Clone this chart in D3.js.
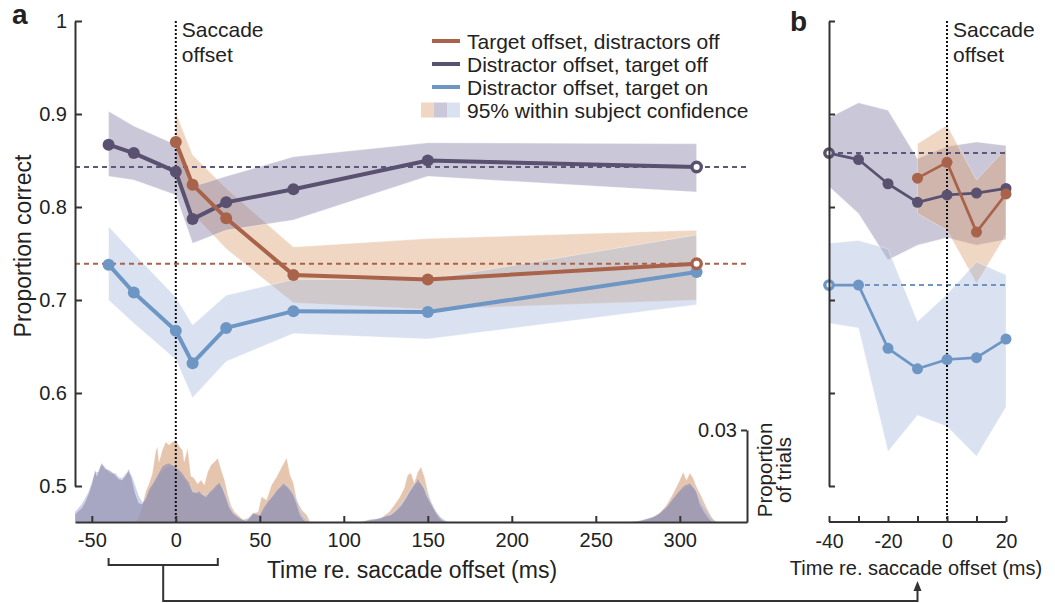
<!DOCTYPE html>
<html>
<head>
<meta charset="utf-8">
<script src="https://cdn.jsdelivr.net/npm/d3@7"></script>
<style>
  html, body { margin: 0; padding: 0; background: #fff; }
  svg { display: block; }
  text { font-family: 'Liberation Sans', Arial, Helvetica, sans-serif; fill: #222; }
</style>
</head>
<body>
<svg id="chart" width="1055" height="603"></svg>
<script>
// ---------------- DATA ----------------
// Panel a: proportion correct vs time re. saccade offset (ms)
const timesA = [-40, -25, 0, 10, 30, 70, 150, 310];
const distOffTargetOffA   = [0.867, 0.858, 0.838, 0.787, 0.805, 0.819, 0.850, 0.843];
const distOffTargetOffLoA = [0.833, 0.829, 0.813, 0.761, 0.775, 0.786, 0.833, 0.816];
const distOffTargetOffHiA = [0.903, 0.887, 0.867, 0.822, 0.833, 0.854, 0.869, 0.868];
const distOffTargetOnA    = [0.738, 0.708, 0.667, 0.632, 0.670, 0.688, 0.687, 0.730];
const distOffTargetOnLoA  = [0.700, 0.675, 0.636, 0.595, 0.634, 0.664, 0.658, 0.695];
const distOffTargetOnHiA  = [0.779, 0.750, 0.703, 0.673, 0.705, 0.722, 0.722, 0.770];
const timesTargetA = [0, 10, 30, 70, 150, 310];
const targetOffA   = [0.870, 0.824, 0.788, 0.727, 0.722, 0.739];
const targetOffLoA = [0.835, 0.793, 0.755, 0.697, 0.690, 0.700];
const targetOffHiA = [0.902, 0.856, 0.820, 0.757, 0.766, 0.775];
// reference (dashed) levels in panel a
const refTargetA = 0.739;
const refDistOffA = 0.843;

// Panel b
const timesB = [-40, -30, -20, -10, 0, 10, 20];
const distOffTargetOffB   = [0.858, 0.851, 0.825, 0.805, 0.813, 0.815, 0.820];
const distOffTargetOffLoB = [0.822, 0.793, 0.743, 0.759, 0.767, 0.759, 0.765];
const distOffTargetOffHiB = [0.896, 0.912, 0.904, 0.852, 0.865, 0.870, 0.866];
const distOffTargetOnB    = [0.716, 0.716, 0.648, 0.626, 0.636, 0.638, 0.658];
const distOffTargetOnLoB  = [0.675, 0.670, 0.537, 0.576, 0.564, 0.532, 0.585];
const distOffTargetOnHiB  = [0.761, 0.764, 0.755, 0.677, 0.706, 0.741, 0.727];
const timesTargetB = [-10, 0, 10, 20];
const targetOffB   = [0.831, 0.848, 0.773, 0.814];
const targetOffLoB = [0.793, 0.775, 0.718, 0.770];
const targetOffHiB = [0.868, 0.888, 0.829, 0.863];
const refDistOffB = 0.858;
const refDistOnB = 0.716;

// Histograms: proportion of trials vs time (ms)
const histTarget = [[-24,0],[-22,.0016],[-20,.0049],[-18,.0098],[-16,.0124],[-14,.0157],[-12,.0228],[-11,.0248],[-10,.0196],[-8,.0235],[-6,.0261],[-4,.0251],[-2,.0261],[0,.0267],[2,.0248],[4,.0235],[5,.0196],[7,.0241],[9,.0150],[11,.0143],[13,.0124],[15,.0137],[17,.0121],[19,.0163],[21,.0186],[23,.0196],[25,.0209],[27,.0170],[29,.0137],[31,.0088],[33,.0052],[35,.0033],[37,.0023],[40,.0007],[43,.0013],[46,.0029],[49,.0033],[51,.0082],[54,.0072],[57,.0121],[60,.0147],[63,.0179],[66,.0209],[68,.0153],[70,.0127],[72,.0072],[75,.0039],[78,.0023],[80,0],
  [115,0],[119,.0007],[123,.0016],[127,.0033],[130,.0055],[133,.0078],[136,.0111],[138,.0153],[140,.0160],[142,.0127],[144,.0163],[146,.0179],[148,.0147],[150,.0098],[152,.0065],[155,.0033],[158,.0013],[161,0],
  [272,0],[278,.0003],[282,.0010],[286,.0020],[288,.0029],[292,.0055],[295,.0082],[298,.0114],[300,.0137],[302,.0163],[304,.0137],[306,.0160],[308,.0143],[310,.0114],[313,.0082],[316,.0046],[319,.0016],[321,0]];
const histDistOff = [[-60,.0026],[-58,.0036],[-56,.0046],[-54,.0065],[-52,.0091],[-50,.0124],[-48,.0170],[-47,.0150],[-45,.0183],[-44,.0192],[-42,.0173],[-40,.0170],[-38,.0163],[-36,.0153],[-34,.0140],[-32,.0137],[-30,.0150],[-28,.0173],[-26,.0137],[-24,.0091],[-22,.0062],[-20,.0059],[-18,.0078],[-16,.0108],[-14,.0124],[-12,.0143],[-10,.0163],[-8,.0183],[-6,.0189],[-4,.0192],[-2,.0186],[0,.0179],[2,.0170],[4,.0160],[6,.0143],[8,.0130],[10,.0098],[12,.0095],[14,.0101],[16,.0088],[18,.0082],[20,.0098],[22,.0108],[24,.0121],[26,.0130],[28,.0108],[30,.0078],[32,.0046],[34,.0029],[36,.0020],[38,.0013],[40,.0007],[42,.0003],[44,.0013],[46,.0029],[48,.0026],[50,.0023],[52,.0046],[54,.0062],[56,.0075],[58,.0088],[60,.0104],[62,.0114],[64,.0127],[66,.0117],[68,.0104],[70,.0088],[72,.0059],[74,.0023],[76,.0007],[78,0],
  [110,0],[115,.0007],[119,.0010],[122,.0013],[125,.0020],[128,.0023],[131,.0036],[134,.0052],[137,.0078],[139,.0098],[141,.0114],[143,.0130],[144,.0143],[146,.0124],[148,.0108],[149,.0088],[151,.0068],[153,.0049],[155,.0029],[157,.0013],[159,.0003],[161,0],
  [270,0],[276,.0003],[280,.0010],[284,.0016],[288,.0029],[292,.0049],[296,.0078],[299,.0098],[301,.0111],[303,.0121],[306,.0127],[308,.0114],[310,.0098],[312,.0059],[315,.0029],[318,.0007],[320,0]];
const histDistOn = [[-60,.0033],[-58,.0046],[-56,.0059],[-54,.0078],[-52,.0098],[-50,.0130],[-48,.0163],[-46,.0163],[-44,.0186],[-42,.0179],[-40,.0163],[-38,.0157],[-36,.0160],[-34,.0147],[-32,.0143],[-30,.0157],[-28,.0163],[-26,.0150],[-24,.0117],[-22,.0085],[-20,.0065],[-18,.0072],[-16,.0098],[-14,.0117],[-12,.0137],[-10,.0157],[-8,.0170],[-6,.0179],[-4,.0183],[-2,.0189],[0,.0176],[2,.0163],[4,.0150],[6,.0137],[8,.0117],[10,.0104],[12,.0098],[14,.0091],[16,.0091],[18,.0088],[20,.0095],[22,.0104],[24,.0114],[26,.0124],[28,.0111],[30,.0085],[32,.0052],[34,.0033],[36,.0020],[38,.0010],[40,.0007],[42,.0007],[44,.0016],[46,.0026],[48,.0023],[50,.0026],[52,.0039],[54,.0055],[56,.0072],[58,.0085],[60,.0098],[62,.0111],[64,.0117],[66,.0121],[68,.0111],[70,.0095],[72,.0072],[74,.0039],[76,.0016],[78,.0007],[80,0],
  [112,0],[116,.0007],[120,.0010],[124,.0016],[128,.0026],[131,.0039],[134,.0059],[137,.0082],[140,.0108],[142,.0124],[144,.0130],[146,.0130],[148,.0111],[150,.0088],[152,.0065],[154,.0042],[156,.0026],[158,.0013],[161,.0003],[163,0],
  [272,0],[278,.0007],[282,.0013],[286,.0020],[290,.0036],[294,.0059],[297,.0082],[300,.0101],[303,.0114],[306,.0121],[309,.0111],[311,.0088],[313,.0062],[316,.0036],[319,.0013],[322,0]];

// Ticks & labels
const yTicks = [0.5, 0.6, 0.7, 0.8, 0.9, 1];
const xTicksA = [-50, 0, 50, 100, 150, 200, 250, 300];
const xTicksB = [-40, -30, -20, -10, 0, 10, 20];
const histTicks = [0.03];
const bracketRange = [-40, 25];   // ms in panel a expanded into panel b
const bracketTarget = -10;        // ms in panel b where the arrow points
const legendLabels = ["Target offset, distractors off", "Distractor offset, target off", "Distractor offset, target on", "95% within subject confidence"];

// ---------------- STYLE ----------------
const C = {
  orange: "#a9634b", purple: "#59516f", blue: "#6d96c4",
  orangeBand: "#d69c6c", purpleBand: "#8a82a8", blueBand: "#a3b3da",
  orangeHist: "#d7a27c", purpleHist: "#8a84a2", blueHist: "#a6b5dc",
  axis: "#333"
};

const svg = d3.select("#chart");
svg.append("rect").attr("width", 1055).attr("height", 603).attr("fill", "#fff");

const xA = d3.scaleLinear().domain([-60, 340]).range([75, 747]);
const yA = d3.scaleLinear().domain([0.5, 1]).range([486, 21]);
const yH = d3.scaleLinear().domain([0, 0.03]).range([522, 430]);
const xB = d3.scaleLinear().domain([-40, 20]).range([829, 1006]);

const zip = (ts, vs, lo, hi) => ts.map((t, i) => ({t, v: vs ? vs[i] : null, lo: lo ? lo[i] : null, hi: hi ? hi[i] : null}));

function band(g, x, data, color, op) {
  g.append("path").datum(data)
    .attr("d", d3.area().x(d => x(d.t)).y0(d => yA(d.lo)).y1(d => yA(d.hi)))
    .attr("fill", color).attr("fill-opacity", op)
    .attr("stroke", "#fff").attr("stroke-opacity", 0.35).attr("stroke-width", 1);
}
function series(g, x, data, color, lw, r, openIdx) {
  g.append("path").datum(data)
    .attr("d", d3.line().x(d => x(d.t)).y(d => yA(d.v)))
    .attr("fill", "none").attr("stroke", color).attr("stroke-width", lw).attr("stroke-linejoin", "round");
  g.selectAll(null).data(data).enter().append("circle")
    .attr("cx", d => x(d.t)).attr("cy", d => yA(d.v))
    .attr("r", (d, i) => i === openIdx ? r - 1.3 : r)
    .attr("fill", (d, i) => i === openIdx ? "#fff" : color)
    .attr("stroke", color).attr("stroke-width", (d, i) => i === openIdx ? 3.4 : 0);
}
function hline(g, x0, x1, v, color) {
  g.append("line").attr("x1", x0).attr("x2", x1).attr("y1", yA(v)).attr("y2", yA(v))
    .attr("stroke", color).attr("stroke-width", 2).attr("stroke-dasharray", "5,4");
}
function styleAxis(sel, fs) {
  sel.selectAll("path, line").attr("stroke", C.axis).attr("stroke-width", 2);
  sel.selectAll("text").attr("fill", "#333").style("font-size", (fs || 20) + "px")
    .style("font-family", "'Liberation Sans', Arial, sans-serif");
}

// ---------------- PANEL A ----------------
const gA = svg.append("g");
band(gA, xA, zip(timesTargetA, targetOffA, targetOffLoA, targetOffHiA), C.orangeBand, 0.4);
band(gA, xA, zip(timesA, distOffTargetOffA, distOffTargetOffLoA, distOffTargetOffHiA), C.purpleBand, 0.45);
band(gA, xA, zip(timesA, distOffTargetOnA, distOffTargetOnLoA, distOffTargetOnHiA), C.blueBand, 0.4);

// histograms
const histArea = d3.area().x(d => xA(d[0])).y0(yH(0)).y1(d => yH(d[1]));
[[histTarget, C.orangeHist, 0.62], [histDistOn, C.blueHist, 0.6], [histDistOff, C.purpleHist, 0.55]].forEach(([h, c, o]) => {
  gA.append("path").datum(h).attr("d", histArea).attr("fill", c).attr("fill-opacity", o)
    .attr("stroke", "#fff").attr("stroke-opacity", 0.3).attr("stroke-width", 0.8);
});

hline(gA, xA(-60), xA(340), refDistOffA, "#5e5878");
hline(gA, xA(-60), xA(340), refTargetA, C.orange);

gA.append("line").attr("x1", xA(0)).attr("x2", xA(0)).attr("y1", yA(1)).attr("y2", yH(0))
  .attr("stroke", "#111").attr("stroke-width", 2).attr("stroke-dasharray", "2,2");

series(gA, xA, zip(timesA, distOffTargetOnA), C.blue, 4, 6, -1);
series(gA, xA, zip(timesA, distOffTargetOffA), C.purple, 4, 6, timesA.length - 1);
series(gA, xA, zip(timesTargetA, targetOffA), C.orange, 4, 6, timesTargetA.length - 1);

// axes
const ayA = svg.append("g").attr("transform", `translate(${xA(-60)},0)`)
  .call(d3.axisLeft(yA).tickValues(yTicks).tickSize(-7).tickSizeOuter(0).tickPadding(8)
    .tickFormat(d => d === 1 ? "1" : d3.format(".1f")(d)));
styleAxis(ayA);
const axA = svg.append("g").attr("transform", `translate(0,${yH(0)})`)
  .call(d3.axisBottom(xA).tickValues(xTicksA).tickSize(-6).tickSizeOuter(0).tickPadding(11)
    .tickFormat(d => String(d)));
styleAxis(axA);
const ahA = svg.append("g").attr("transform", `translate(${xA(340)},0)`)
  .call(d3.axisLeft(yH).tickValues(histTicks).tickSize(6).tickSizeOuter(0).tickPadding(4)
    .tickFormat(d3.format(".2f")));
styleAxis(ahA);

// texts panel a
svg.append("text").attr("x", 12).attr("y", 24).style("font-size", "28px").style("font-weight", "bold").text("a");
svg.append("text").attr("x", xA(0) + 6).attr("y", 37).style("font-size", "21px").text("Saccade");
svg.append("text").attr("x", xA(0) + 6).attr("y", 62).style("font-size", "21px").text("offset");
svg.append("text").attr("transform", "translate(31,246) rotate(-90)").attr("text-anchor", "middle")
  .style("font-size", "23px").text("Proportion correct");
svg.append("text").attr("x", 412).attr("y", 578).attr("text-anchor", "middle")
  .style("font-size", "23px").text("Time re. saccade offset (ms)");
svg.append("text").attr("transform", "translate(772,470) rotate(-90)").attr("text-anchor", "middle")
  .style("font-size", "20.5px").text("Proportion");
svg.append("text").attr("transform", "translate(791,470) rotate(-90)").attr("text-anchor", "middle")
  .style("font-size", "20.5px").text("of trials");

// legend
const lg = svg.append("g");
const legColors = [C.orange, C.purple, C.blue];
const rowY = [41, 64, 87, 110];
legColors.forEach((c, i) => {
  lg.append("line").attr("x1", 432).attr("x2", 460).attr("y1", rowY[i]).attr("y2", rowY[i])
    .attr("stroke", c).attr("stroke-width", 4);
});
[[C.orangeBand, 0.4], [C.purpleBand, 0.45], [C.blueBand, 0.4]].forEach(([c, o], i) => {
  lg.append("rect").attr("x", 421 + i * 13).attr("y", rowY[3] - 7.5).attr("width", 13).attr("height", 15)
    .attr("fill", c).attr("fill-opacity", o);
});
legendLabels.forEach((t, i) => {
  lg.append("text").attr("x", 467).attr("y", rowY[i] + 7.5).style("font-size", "21px").text(t);
});

// bracket + arrow
const br = svg.append("g").attr("fill", "none").attr("stroke", C.axis).attr("stroke-width", 2);
const bx0 = xA(bracketRange[0]), bx1 = xA(bracketRange[1]), bxm = xA((bracketRange[0] + bracketRange[1]) / 2);
br.append("path").attr("d", `M${bx0},558V565H${bx1}V558`);
br.append("path").attr("d", `M${bxm},565V601H${xB(bracketTarget)}V589`);
svg.append("path").attr("d", `M${xB(bracketTarget)},581l-4,10h8z`).attr("fill", C.axis);

// ---------------- PANEL B ----------------
const gB = svg.append("g");
band(gB, xB, zip(timesB, distOffTargetOffB, distOffTargetOffLoB, distOffTargetOffHiB), C.purpleBand, 0.45);
band(gB, xB, zip(timesTargetB, targetOffB, targetOffLoB, targetOffHiB), C.orangeBand, 0.4);
band(gB, xB, zip(timesB, distOffTargetOnB, distOffTargetOnLoB, distOffTargetOnHiB), C.blueBand, 0.4);

hline(gB, xB(-40), xB(20), refDistOffB, "#5e5878");
hline(gB, xB(-40), xB(20), refDistOnB, C.blue);

gB.append("line").attr("x1", xB(0)).attr("x2", xB(0)).attr("y1", yA(1)).attr("y2", yH(0))
  .attr("stroke", "#111").attr("stroke-width", 2).attr("stroke-dasharray", "2,2");

series(gB, xB, zip(timesB, distOffTargetOnB), C.blue, 2.7, 5.5, 0);
series(gB, xB, zip(timesB, distOffTargetOffB), C.purple, 2.7, 5.5, 0);
series(gB, xB, zip(timesTargetB, targetOffB), C.orange, 2.7, 5.5, -1);

const ayB = svg.append("g").attr("transform", `translate(${xB(-40)},0)`)
  .call(d3.axisLeft(yA).tickValues(yTicks).tickSize(-6).tickSizeOuter(0).tickFormat(""));
styleAxis(ayB);
const axB = svg.append("g").attr("transform", `translate(0,${yH(0)})`)
  .call(d3.axisBottom(xB).tickValues(xTicksB).tickSize(-6).tickSizeOuter(0).tickPadding(12)
    .tickFormat(d => d % 20 === 0 ? String(d) : ""));
styleAxis(axB, 19.5);
axB.select(".domain").attr("d", `M${xB(-40)},0H${xB(20)}`);
// remove empty tick labels so they do not take space
axB.selectAll(".tick text").filter(function() { return this.textContent === ""; }).remove();

svg.append("text").attr("x", 790).attr("y", 31).style("font-size", "28px").style("font-weight", "bold").text("b");
svg.append("text").attr("x", xB(0) + 6).attr("y", 37).style("font-size", "21px").text("Saccade");
svg.append("text").attr("x", xB(0) + 6).attr("y", 62).style("font-size", "21px").text("offset");
svg.append("text").attr("x", 916).attr("y", 575).attr("text-anchor", "middle")
  .style("font-size", "20px").text("Time re. saccade offset (ms)");
</script>
</body>
</html>
